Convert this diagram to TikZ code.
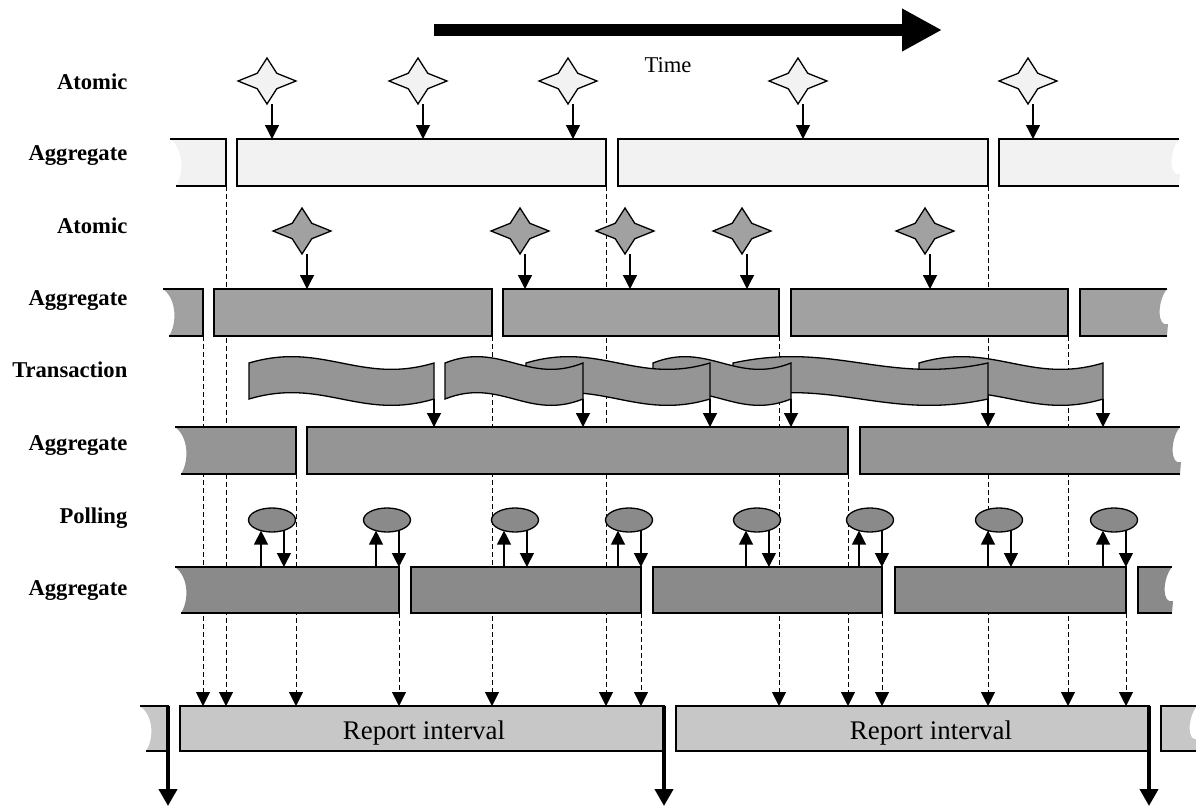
\documentclass[tikz,border=0pt]{standalone}
\usepackage{fontspec}
\setmainfont{Liberation Serif}
\usepackage{tikz}
\usetikzlibrary{arrows.meta,shapes.geometric,positioning}
\pgfdeclarelayer{background}
\pgfsetlayers{background,main}
\definecolor{lightfill}{gray}{0.95}
\definecolor{atomfill}{gray}{0.63}
\definecolor{transfill}{gray}{0.585}
\definecolor{pollfill}{gray}{0.54}
\definecolor{reportfill}{gray}{0.78}

% plain bar: name, x0, x1, top, bottom, fill
\newcommand{\segbar}[6]{\node[bar,fill=#6,minimum width={#3-#2},minimum height={#5-#4}] (#1) at (#2,#4) {};}
% bar torn on the left, coordinate at its lower right corner
\newcommand{\tornleft}[6]{%
  \fill[#6] (#2,#4) .. controls ({#2+14},{#4+10}) and ({#2+14},{#5-12}) .. ({#2+6},#5) -- (#3,#5) -- (#3,#4) -- cycle;
  \draw (#2,#4) -- (#3,#4) -- (#3,#5) -- ({#2+6},#5);
  \coordinate (#1) at (#3,#5);}
% bar torn on the right
\newcommand{\tornright}[6]{%
  \fill[#6] (#3,#4) .. controls ({#3-10},{#4+12}) and ({#3-10},{#5-8}) .. ({#3+1},{#5-12}) -- (#3,#5) -- (#2,#5) -- (#2,#4) -- cycle;
  \draw (#3,#4) -- (#2,#4) -- (#2,#5) -- (#3,#5);
  \coordinate (#1) at (#2,#4);}
% wavy transaction flag, coordinate at its lower right corner
\newcommand{\transflag}[3]{%
  \filldraw[fill=transfill] (#2,363) .. controls ({#2+0.4*(#3-#2)},341) and ({#2+0.6*(#3-#2)},385) .. (#3,363)
    -- (#3,399) .. controls ({#2+0.6*(#3-#2)},421) and ({#2+0.4*(#3-#2)},377) .. (#2,399) -- cycle;
  \coordinate (#1) at (#3,399);}

\begin{document}
\begin{tikzpicture}[x=1pt,y=-1pt,>={Triangle[length=14pt,width=14pt]},line width=1.3pt]
        \tikzstyle{bar}=[draw,inner sep=0pt,outer sep=0pt,anchor=north west]
        \tikzstyle{rowlabel}=[font=\fontsize{22.6}{26}\selectfont\bfseries,anchor=base east,inner sep=0pt]
        \tikzstyle{atom}=[draw,star,star points=4,star point ratio=2.1,minimum size=46pt,inner sep=0pt,outer sep=0pt,xscale=1.26,transform shape]
        \tikzstyle{poll}=[draw,ellipse,fill=pollfill,minimum width=47pt,minimum height=24pt,inner sep=0pt,outer sep=0pt]
        \tikzstyle{link}=[dash pattern=on 5pt off 3pt,->]
        \tikzstyle{bigarrow}=[line width=4pt,-{Triangle[length=17pt,width=18pt]}]
        \useasboundingbox (0,0) rectangle (1196,808);

        \node[rowlabel] (l1) at (128,89) {Atomic};
        \node[rowlabel] (l2) at (128,160) {Aggregate};
        \node[rowlabel] (l3) at (128,233) {Atomic};
        \node[rowlabel] (l4) at (128,305) {Aggregate};
        \node[rowlabel] (l5) at (128,377) {Transaction};
        \node[rowlabel] (l6) at (128,450) {Aggregate};
        \node[rowlabel] (l7) at (128,523) {Polling};
        \node[rowlabel] (l8) at (128,595) {Aggregate};

        \coordinate (t0) at (434,30);
        \coordinate (t1) at (942,30);
        \draw[line width=12pt,-{Triangle[length=40pt,width=40pt]}] (t0) -- (t1);
        \node[font=\fontsize{22.6}{26}\selectfont,anchor=base,inner sep=0pt] (time) at (668,72) {Time};

        \tornleft{g1a}{170}{226}{139}{186}{lightfill}
        \segbar{g1b}{237}{606}{139}{186}{lightfill}
        \segbar{g1c}{618}{988}{139}{186}{lightfill}
        \tornright{g1d}{999}{1179}{139}{186}{lightfill}

        \tornleft{g2a}{163}{203}{289}{336}{atomfill}
        \segbar{g2b}{214}{492}{289}{336}{atomfill}
        \segbar{g2c}{503}{779}{289}{336}{atomfill}
        \segbar{g2d}{791}{1068}{289}{336}{atomfill}
        \tornright{g2e}{1080}{1167}{289}{336}{atomfill}

        \tornleft{g3a}{175}{296}{427}{474}{transfill}
        \segbar{g3b}{307}{848}{427}{474}{transfill}
        \tornright{g3c}{860}{1180}{427}{474}{transfill}

        \tornleft{g4a}{175}{399}{567}{613}{pollfill}
        \segbar{g4b}{411}{641}{567}{613}{pollfill}
        \segbar{g4c}{653}{882}{567}{613}{pollfill}
        \segbar{g4d}{895}{1126}{567}{613}{pollfill}
        \tornright{g4e}{1138}{1172}{567}{613}{pollfill}

        \tornleft{r0}{140}{168}{706}{751}{reportfill}
        \segbar{r1}{180}{664}{706}{751}{reportfill}
        \segbar{r2}{676}{1149}{706}{751}{reportfill}
        \tornright{r3}{1161}{1197}{706}{751}{reportfill}
        \node[font=\fontsize{26.9}{30}\selectfont,anchor=base,inner sep=0pt] (ri1) at (424,739) {Report interval};
        \node[font=\fontsize{26.9}{30}\selectfont,anchor=base,inner sep=0pt] (ri2) at (931,739) {Report interval};

        \foreach \x [count=\i] in {267,418,568,798,1028} {
          \node[atom,fill=lightfill] (s\i) at (\x,81) {};
          \path ([xshift=5pt]s\i.south) coordinate (sa\i);
          \draw[->] (sa\i) -- (sa\i |- g1b.north);
        }
        \foreach \x [count=\i] in {302,520,625,742,925} {
          \node[atom,fill=atomfill] (u\i) at (\x,231) {};
          \path ([xshift=5pt]u\i.south) coordinate (ua\i);
          \draw[->] (ua\i) -- (ua\i |- g2b.north);
        }

        \transflag{f6}{919}{1103}
        \transflag{f5}{733}{988}
        \transflag{f4}{653}{791}
        \transflag{f3}{526}{710}
        \transflag{f2}{445}{583}
        \transflag{f1}{249}{434}
        \foreach \i in {1,...,6}
          \draw[->] (f\i) -- (f\i |- g3b.north);

        \foreach \x [count=\i] in {272,387,515,629,757,870,999,1114} {
          \node[poll] (p\i) at (\x,520) {};
          \draw[->] (p\i.224 |- g4b.north) -- (p\i.224);
          \draw[->] (p\i.319) -- (p\i.319 |- g4b.north);
        }

        \coordinate (floor) at (0,806);
        \draw[bigarrow] (r0 |- r1.north) -- (r0 |- floor);
        \draw[bigarrow] (r1.north east) -- (r1.north east |- floor);
        \draw[bigarrow] (r2.north east) -- (r2.north east |- floor);

        \begin{pgfonlayer}{background}
          \foreach \s in {g1a,g2a,g3a,g4a}
            \draw[link] (\s) -- (\s |- r1.north);
          \foreach \s in {g1b,g1c,g2b,g2c,g2d,g3b,g4b,g4c,g4d}
            \draw[link] (\s.south east) -- (\s.south east |- r1.north);
        \end{pgfonlayer}
     \end{tikzpicture}
\end{document}
